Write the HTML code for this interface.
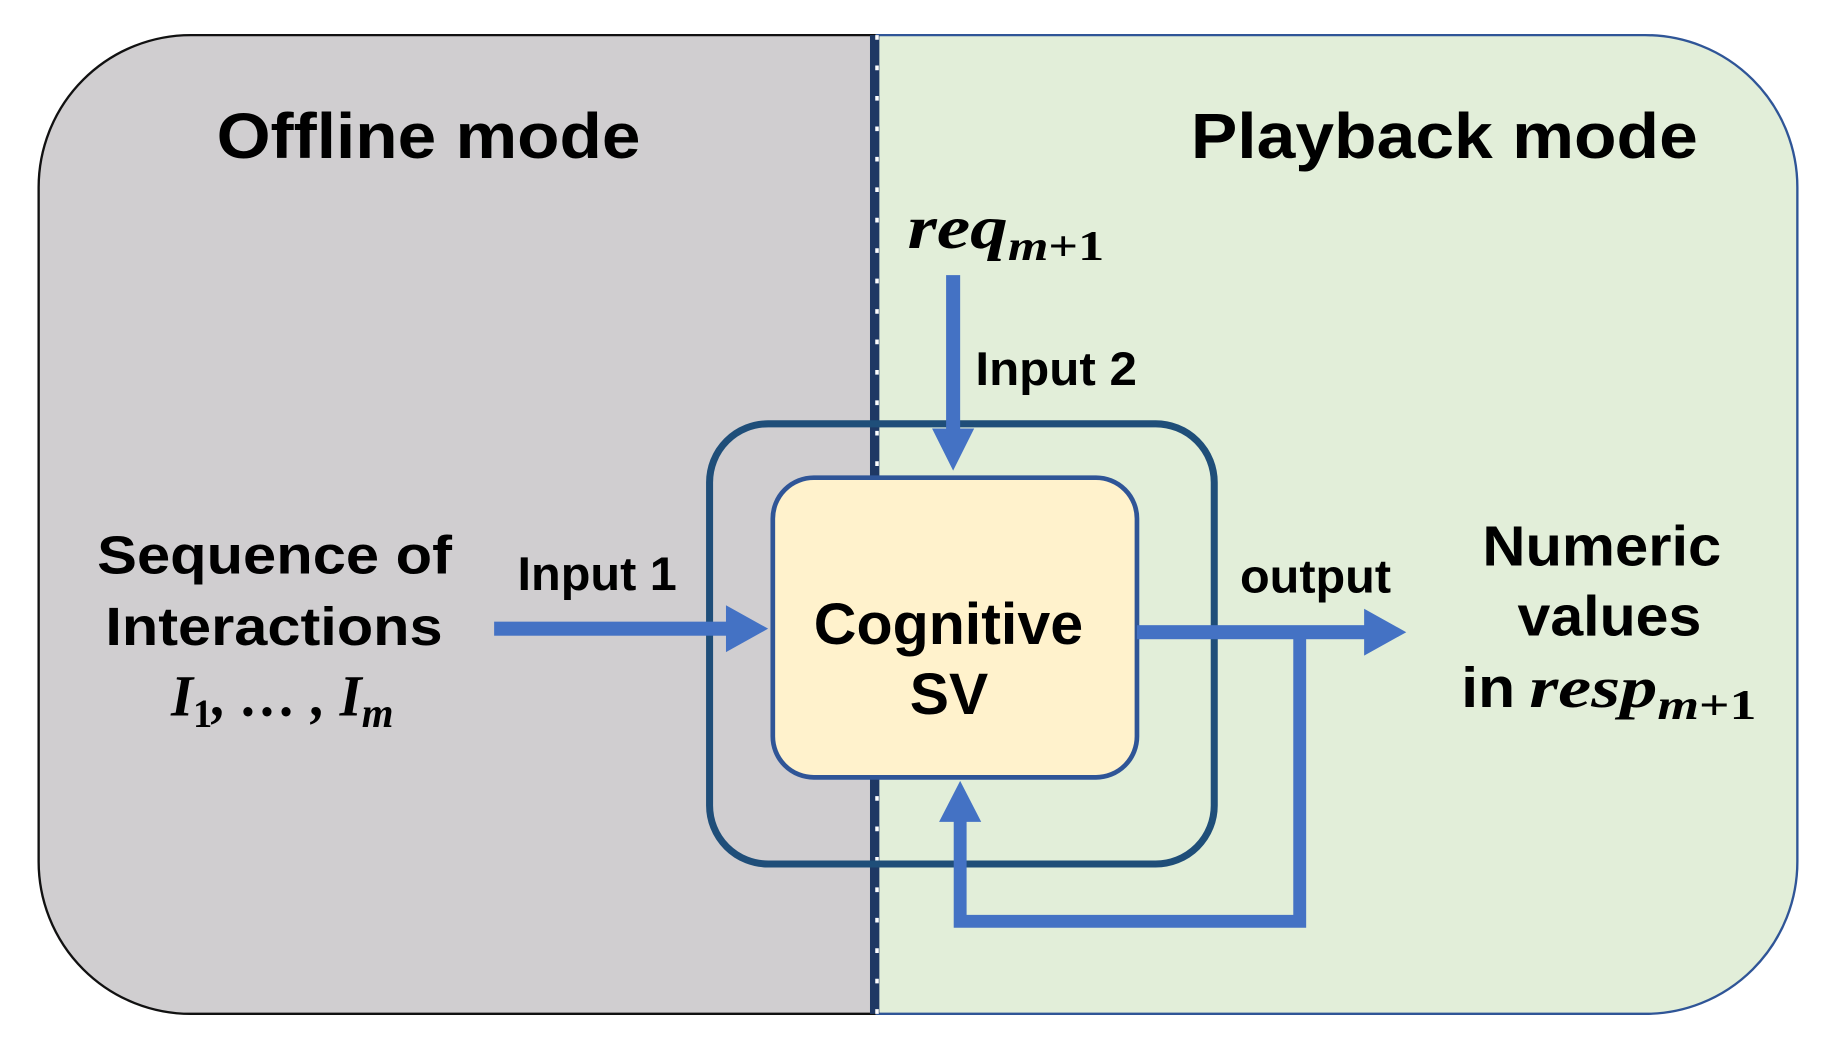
<!DOCTYPE html>
<html><head><meta charset="utf-8"><style>html,body{margin:0;padding:0;background:#fff}svg{display:block}</style></head>
<body>
<svg width="1836" height="1056" viewBox="0 0 1568 902" preserveAspectRatio="none" xmlns="http://www.w3.org/2000/svg">
<defs>
<clipPath id="c"><rect x="33" y="30" width="1502" height="836" rx="130" ry="130"/></clipPath>
</defs>
<g clip-path="url(#c)">
<rect x="0" y="0" width="748" height="902" fill="#d0ced0"/>
<rect x="748" y="0" width="900" height="902" fill="#e2eed9"/>
</g>
<path d="M748 30 H163 A130 130 0 0 0 33 160 V736 A130 130 0 0 0 163 866 H748" fill="none" stroke="#111" stroke-width="2"/>
<path d="M748 30 H1405 A130 130 0 0 1 1535 160 V736 A130 130 0 0 1 1405 866 H748" fill="none" stroke="#2f5597" stroke-width="2"/>
<line x1="747" y1="30" x2="747" y2="866" stroke="#1f3864" stroke-width="8"/>
<line x1="749" y1="30" x2="749" y2="866" stroke="#fff" stroke-width="3" stroke-dasharray="4 22"/>
<rect x="606" y="362" width="431" height="376" rx="50" fill="none" stroke="#1f4e79" stroke-width="6"/>
<rect x="660" y="408" width="311" height="256" rx="35" fill="#fff2cc" stroke="#2f5597" stroke-width="4"/>
<g fill="#4472c4" stroke="none">
<rect x="422" y="531" width="200" height="12"/>
<polygon points="620,517 656,537 620,557"/>
<rect x="808" y="235" width="12" height="132"/>
<polygon points="796,366 814,402 832,366"/>
<rect x="971" y="534" width="196" height="12"/>
<polygon points="1165,520 1201,540 1165,560"/>
</g>
<path d="M1110 540 V787 H820 V700" fill="none" stroke="#4472c4" stroke-width="11"/>
<polygon points="802,702 820,667 838,702" fill="#4472c4"/>
<g font-family="Liberation Sans, sans-serif" font-weight="bold" fill="#000">
<text x="185" y="135" font-size="55" textLength="362" lengthAdjust="spacingAndGlyphs">Offline mode</text>
<text x="1017" y="135" font-size="55" textLength="433" lengthAdjust="spacingAndGlyphs">Playback mode</text>
<text x="83" y="490" font-size="46" textLength="303" lengthAdjust="spacingAndGlyphs">Sequence of</text>
<text x="90" y="551" font-size="46" textLength="288" lengthAdjust="spacingAndGlyphs">Interactions</text>
<text x="442" y="504" font-size="40" textLength="136" lengthAdjust="spacingAndGlyphs">Input 1</text>
<text x="833" y="329" font-size="40" textLength="138" lengthAdjust="spacingAndGlyphs">Input 2</text>
<text x="1059" y="506" font-size="40" textLength="129" lengthAdjust="spacingAndGlyphs">output</text>
<text x="695" y="550" font-size="50" textLength="230" lengthAdjust="spacingAndGlyphs">Cognitive</text>
<text x="777" y="610" font-size="50" textLength="67" lengthAdjust="spacingAndGlyphs">SV</text>
<text x="1266" y="483" font-size="48" textLength="204" lengthAdjust="spacingAndGlyphs">Numeric</text>
<text x="1296" y="543" font-size="48" textLength="157" lengthAdjust="spacingAndGlyphs">values</text>
<text x="1248" y="604" font-size="48" textLength="46" lengthAdjust="spacingAndGlyphs">in</text>
</g>
<g font-family="Liberation Serif, serif" font-weight="bold" font-style="italic" fill="#000">
<text x="146" y="611" font-size="50" textLength="190" lengthAdjust="spacingAndGlyphs">I<tspan font-style="normal" font-size="34" dy="10">1</tspan><tspan dy="-10">, … , I</tspan><tspan font-size="36" dy="10">m</tspan></text>
<text x="775" y="212" font-size="52" textLength="168" lengthAdjust="spacingAndGlyphs">req<tspan font-size="36" dy="10">m<tspan font-style="normal">+1</tspan></tspan></text>
<text x="1306" y="604" font-size="50" textLength="194" lengthAdjust="spacingAndGlyphs">resp<tspan font-size="36" dy="10">m<tspan font-style="normal">+1</tspan></tspan></text>
</g>
</svg>
</body></html>
